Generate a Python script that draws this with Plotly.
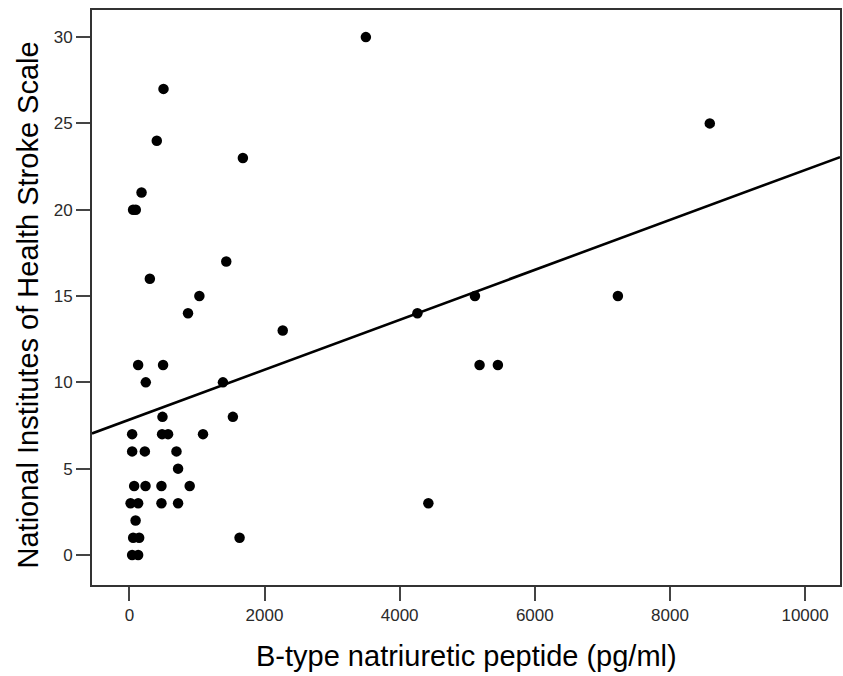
import plotly.graph_objects as go

# Data
bnp = [3500, 8590, 505, 406, 1680, 180, 55, 95, 1434, 303, 1036, 5114, 7230,
       868, 4263, 2270, 130, 499, 5183, 5454, 243, 1385, 490, 1532, 41, 484,
       573, 1090, 41, 229, 697, 721, 71, 239, 475, 893, 18, 130, 475, 721,
       4425, 92, 56, 145, 1631, 41, 130]
nihss = [30, 25, 27, 24, 23, 21, 20, 20, 17, 16, 15, 15, 15,
         14, 14, 13, 11, 11, 11, 11, 10, 10, 8, 8, 7, 7,
         7, 7, 6, 6, 6, 5, 4, 4, 4, 4, 3, 3, 3, 3,
         3, 2, 1, 1, 1, 0, 0]

# Fitted regression line
fit_intercept = 7.84
fit_slope = 0.001446

x_range = [-553, 10517]
y_range = [-1.74, 31.57]
x_ticks = [0, 2000, 4000, 6000, 8000, 10000]
x_tick_labels = ["0", "2000", "4000", "6000", "8000", "10000"]
y_ticks = [0, 5, 10, 15, 20, 25, 30]

x_title = "B-type natriuretic peptide (pg/ml)"
y_title = "National Institutes of Health Stroke Scale"

fig = go.Figure()
fig.add_trace(go.Scatter(
    x=x_range,
    y=[fit_intercept + fit_slope * v for v in x_range],
    mode="lines", line=dict(color="black", width=2.6),
    showlegend=False, hoverinfo="skip"))
fig.add_trace(go.Scatter(
    x=bnp, y=nihss, mode="markers",
    marker=dict(color="black", size=10.5, line=dict(width=0)),
    showlegend=False))

axis_common = dict(
    showgrid=False, zeroline=False, showline=True, mirror=True,
    linecolor="#333333", linewidth=2, ticks="outside", ticklen=14,
    tickwidth=2, tickcolor="#444444",
    tickfont=dict(family="Liberation Sans, Arial", size=17, color="#2a2a2a"),
)

fig.update_layout(
    width=843, height=676,
    margin=dict(l=92, r=1, t=10, b=91),
    paper_bgcolor="white", plot_bgcolor="white",
    xaxis=dict(range=x_range, tickvals=x_ticks, ticktext=x_tick_labels,
               **axis_common),
    yaxis=dict(range=y_range, tickvals=y_ticks, **axis_common),
    annotations=[
        dict(text=x_title, xref="paper", yref="paper", x=0.5, y=0,
             yshift=-71, xanchor="center", yanchor="middle", showarrow=False,
             font=dict(family="Liberation Sans, Arial", size=29, color="black")),
        dict(text=y_title, xref="paper", yref="paper", x=0, y=0.5,
             xshift=-65, yshift=-8, xanchor="center", yanchor="middle",
             textangle=-90, showarrow=False,
             font=dict(family="Liberation Sans, Arial", size=29, color="black")),
    ],
)

fig.write_html("out.html", config={"displayModeBar": False},
               post_script="document.body.style.margin='0';")
